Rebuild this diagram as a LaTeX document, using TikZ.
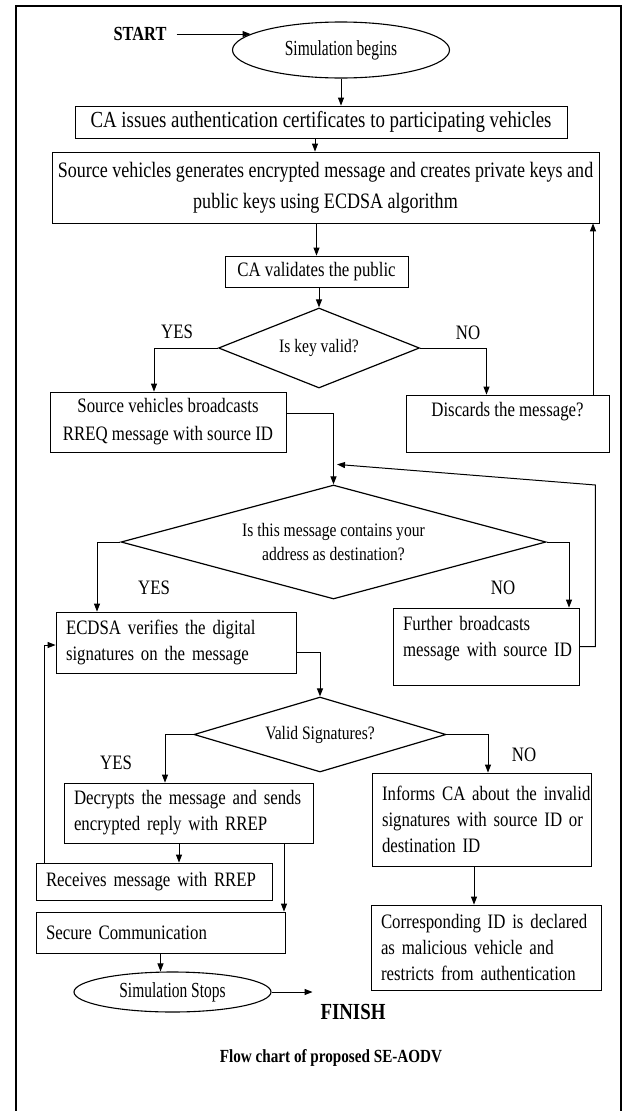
\documentclass[tikz,border=0pt]{standalone}
\usepackage{fontspec}
\setmainfont{Liberation Serif}[FakeStretch=0.82]
\newfontfamily\condfont{Liberation Serif}[FakeStretch=0.72]
\usetikzlibrary{shapes.geometric,arrows.meta,calc}
\newcommand\fA{\fontsize{23}{31}\selectfont}
\newcommand\fAs{\fontsize{22}{31}\selectfont}
\newcommand\fB{\fontsize{20.5}{26}\selectfont}
\newcommand\fC{\fontsize{19}{24}\selectfont}
\newcommand\lline[1]{\mbox{\hspace*{10pt}#1}}
\hyphenpenalty=10000
\begin{document}
\begin{tikzpicture}[x=1pt,y=-1pt,
  box/.style={draw=black, line width=0.8pt, rectangle, inner sep=0pt, align=center, font=\fB},
  lbox/.style={box, align=left, inner xsep=0pt},
  dia/.style={draw=black, diamond, line width=1.2pt, inner sep=0pt},
  dtext/.style={inner sep=0pt, align=center, font=\fC},
  oval/.style={draw=black, ellipse, line width=1.1pt, inner sep=0pt, font=\condfont\fontsize{21.5}{26}\selectfont},
  arr/.style={line width=1pt, -{Triangle[length=8pt,width=6pt]}},
  lab/.style={font=\fB, inner sep=0pt},
  bold/.style={inner sep=0pt, font=\bfseries\fontsize{20}{24}\selectfont}]
\useasboundingbox (0,0) rectangle (632,1111);
% frame
\draw[line width=2.5pt] (16,1112) -- (16,6) -- (621,6) -- (621,1112);

% nodes
\node[oval, minimum width=217pt, minimum height=56pt] (sim1) at (341,50) {Simulation begins};
\node[box, font=\fA, minimum width=492pt, minimum height=32pt] (ca) at (321,122) {CA issues authentication certificates to participating vehicles};
\node[box, font=\fAs, minimum width=547pt, minimum height=71pt] (src) at (325.5,187.5) {Source vehicles generates encrypted message and creates private keys and\\public keys using ECDSA algorithm};
\node[box, minimum width=183pt, minimum height=31pt] (cav) at (316.5,271.5) {CA validates the public};
\node[dia, minimum width=201pt, minimum height=80pt] (d1) at (319,348) {};
\node[dtext] (d1t) at (d1) {Is key valid?};
\node[box, font=\fontsize{20.5}{28}\selectfont, minimum width=236pt, minimum height=60pt] (srcb) at (168,422) {Source vehicles broadcasts\\RREQ message with source ID};
\node[box, font=\fontsize{20.5}{28}\selectfont, minimum width=203pt, minimum height=57pt] (disc) at (507.5,423.5) {Discards the message?\\\mbox{}};
\node[dia, minimum width=425pt, minimum height=114pt] (d2) at (333.5,542) {};
\node[dtext] (d2t) at (d2) {Is this message contains your\\address as destination?};
\node[lbox, text width=240pt, minimum height=61pt] (ecd) at (176,642.5) {\lline{ECDSA verifies the digital}\\\lline{signatures on the message}};
\node[lbox, text width=186pt, minimum height=77pt] (fb) at (486,646.5) {\lline{Further broadcasts}\\\lline{message with source ID}\\[-6pt]\mbox{}};
\node[dia, minimum width=252pt, minimum height=75pt] (d3) at (320,734.5) {};
\node[dtext] (d3t) at (d3) {Valid Signatures?};
\node[lbox, text width=249pt, minimum height=60pt] (dec) at (188.5,813) {\lline{Decrypts the message and sends}\\\lline{encrypted reply with RREP}};
\node[lbox, text width=236pt, minimum height=37pt] (rcv) at (154,881.5) {\lline{Receives message with RREP}};
\node[lbox, text width=249pt, minimum height=41pt] (sec) at (160.5,932.5) {\lline{Secure Communication}};
\node[lbox, text width=219pt, minimum height=93pt] (inf) at (481.5,819.5) {\lline{Informs CA about the invalid}\\\lline{signatures with source ID or}\\\lline{destination ID}};
\node[lbox, text width=230pt, minimum height=85pt] (cor) at (486,947.5) {\lline{Corresponding ID is declared}\\\lline{as malicious vehicle and}\\\lline{restricts from authentication}};
\node[oval, minimum width=197pt, minimum height=40pt] (sim2) at (172.5,992) {Simulation Stops};

% texts
\coordinate (sa) at (sim1.170);
\coordinate (sx) at (140,0);
\node[bold] (start) at (sx |- sa) {START};
\node[bold, font=\bfseries\fontsize{23}{27}\selectfont] (finish) at (353,1012) {FINISH};
\node[bold, font=\bfseries\fontsize{18.5}{22}\selectfont] (cap) at (331,1058) {Flow chart of proposed SE-AODV};
\node[lab] (yes1) at (177,332) {YES};
\node[lab] (no1) at (468,333) {NO};
\node[lab] (yes2) at (154,588) {YES};
\node[lab] (no2) at (503,588) {NO};
\node[lab] (yes3) at (116,763) {YES};
\node[lab] (no3) at (524,755) {NO};

% connectors
\draw[arr] ([xshift=10pt]start.east) -- (sa);
\draw[arr] (sim1.south) -- (sim1.south |- ca.north);
\draw[arr] ([xshift=-6pt]ca.south) -- ([xshift=-6pt]ca.south |- src.north);
\draw[arr] (cav.north |- src.south) -- (cav.north);
\draw[arr] (d1.north |- cav.south) -- (d1.north);
\draw[arr] (d1.west) -| ([xshift=-14pt]srcb.north);
\draw[arr] (d1.east) -| ([xshift=-21pt]disc.north);
\draw[arr] ([xshift=85.5pt]disc.north) -- ([xshift=85.5pt]disc.north |- src.south);
\draw[arr] ([yshift=9pt]srcb.east) -| (d2.north);
\coordinate (merge) at ($(d2.north)+(3.5,-20)$);
\draw[arr] (fb.east) -- ++(16,0) -- ++(0,-161.5) -- (merge);
\draw[arr] (d2.west) -| ([xshift=-79pt]ecd.north);
\draw[arr] (d2.east) -| ([xshift=83pt]fb.north);
\draw[arr] ([yshift=-9.5pt]ecd.east) -| (d3.north);
\draw[arr] (d3.west) -| ([xshift=-23.5pt]dec.north);
\draw[arr] (d3.east) -| ([xshift=6.5pt]inf.north);
\draw[arr] ([xshift=-9.5pt]dec.south) -- ([xshift=-9.5pt]dec.south |- rcv.north);
\draw[arr] ([xshift=95.5pt]dec.south) -- ([xshift=95.5pt]dec.south |- sec.north);
\draw[arr] ([xshift=-110pt]rcv.north) |- ([yshift=-2.5pt]ecd.west);
\draw[arr] ([xshift=-7.5pt]inf.south) -- ([xshift=-7.5pt]inf.south |- cor.north);
\draw[arr] (sec.south) -- (sec.south |- sim2.north);
\draw[arr] (sim2.east) -- ++(41,0);
\end{tikzpicture}
\end{document}
